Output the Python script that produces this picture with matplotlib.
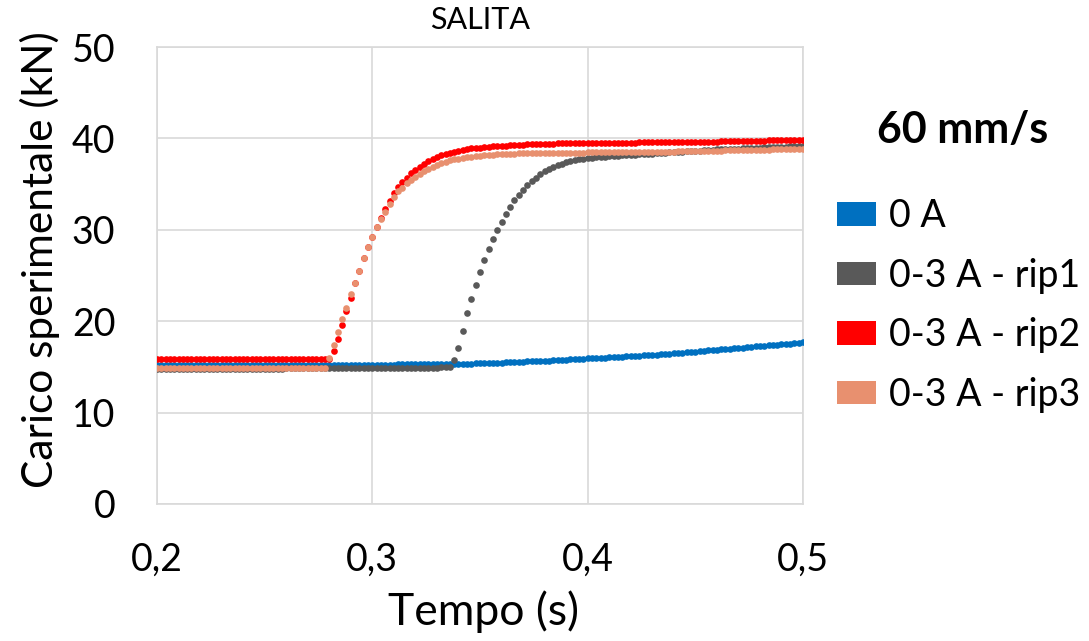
import numpy as np
import matplotlib
matplotlib.use("Agg")
import matplotlib.pyplot as plt
from matplotlib.patches import Patch

plt.rcParams['font.family'] = ['Lato', 'DejaVu Sans']

# sample times (s), acquisition every 0.002 s
tempo = np.round(np.arange(0.200, 0.5001, 0.002), 3)

carico_0A = [
    15.2, 15.2, 15.2, 15.2, 15.2, 15.2, 15.2, 15.2, 15.2, 15.2,
    15.2, 15.2, 15.2, 15.2, 15.2, 15.2, 15.2, 15.2, 15.2, 15.2,
    15.2, 15.2, 15.2, 15.2, 15.2, 15.2, 15.2, 15.2, 15.2, 15.2,
    15.2, 15.2, 15.21, 15.21, 15.21, 15.21, 15.22, 15.22, 15.22, 15.22,
    15.23, 15.23, 15.23, 15.23, 15.23, 15.24, 15.24, 15.24, 15.24, 15.24,
    15.25, 15.25, 15.25, 15.26, 15.26, 15.26, 15.27, 15.27, 15.27, 15.28,
    15.28, 15.29, 15.29, 15.30, 15.30, 15.31, 15.31, 15.32, 15.32, 15.33,
    15.34, 15.35, 15.36, 15.37, 15.38, 15.39, 15.41, 15.42, 15.44, 15.46,
    15.48, 15.50, 15.52, 15.54, 15.56, 15.58, 15.60, 15.62, 15.64, 15.66,
    15.68, 15.70, 15.72, 15.74, 15.77, 15.79, 15.81, 15.84, 15.86, 15.89,
    15.92, 15.94, 15.96, 15.98, 16.01, 16.03, 16.06, 16.08, 16.11, 16.14,
    16.17, 16.20, 16.23, 16.26, 16.29, 16.32, 16.35, 16.38, 16.42, 16.45,
    16.49, 16.53, 16.57, 16.60, 16.64, 16.68, 16.72, 16.76, 16.80, 16.84,
    16.88, 16.92, 16.96, 17.00, 17.04, 17.08, 17.12, 17.16, 17.20, 17.24,
    17.28, 17.32, 17.36, 17.40, 17.44, 17.48, 17.52, 17.56, 17.60, 17.64,
    17.68,
]

carico_rip1 = [
    14.8, 14.8, 14.8, 14.8, 14.8, 14.8, 14.8, 14.8, 14.8, 14.8,
    14.8, 14.8, 14.8, 14.8, 14.8, 14.8, 14.8, 14.8, 14.8, 14.8,
    14.82, 14.82, 14.82, 14.82, 14.82, 14.82, 14.82, 14.82, 14.82, 14.82,
    14.83, 14.83, 14.83, 14.83, 14.83, 14.83, 14.83, 14.83, 14.83, 14.83,
    14.85, 14.85, 14.85, 14.85, 14.85, 14.85, 14.85, 14.85, 14.85, 14.85,
    14.87, 14.87, 14.87, 14.87, 14.87, 14.87, 14.87, 14.87, 14.87, 14.87,
    14.9, 14.9, 14.9, 14.91, 14.92, 14.93, 14.94, 14.95, 14.97, 15.75,
    17.1, 18.9, 20.9, 22.4, 24.0, 25.4, 26.7, 27.9, 29.0, 30.0,
    30.9, 31.7, 32.5, 33.3, 33.8, 34.4, 34.9, 35.3, 35.7, 36.1,
    36.4, 36.65, 36.9, 37.1, 37.25, 37.4, 37.5, 37.6, 37.7, 37.78,
    37.85, 37.9, 37.95, 37.98, 38.01, 38.04, 38.07, 38.1, 38.13, 38.16,
    38.19, 38.22, 38.25, 38.28, 38.31, 38.34, 38.37, 38.40, 38.43, 38.46,
    38.49, 38.52, 38.55, 38.58, 38.61, 38.64, 38.67, 38.70, 38.73, 38.76,
    38.79, 38.81, 38.83, 38.85, 38.87, 38.89, 38.91, 38.93, 38.95, 38.97,
    38.99, 39.01, 39.03, 39.05, 39.07, 39.09, 39.11, 39.13, 39.15, 39.17,
    39.19,
]

carico_rip2 = [
    15.9, 15.9, 15.9, 15.9, 15.9, 15.9, 15.9, 15.9, 15.9, 15.9,
    15.9, 15.9, 15.9, 15.9, 15.9, 15.9, 15.9, 15.9, 15.9, 15.9,
    15.9, 15.9, 15.9, 15.9, 15.9, 15.9, 15.9, 15.9, 15.9, 15.9,
    15.9, 15.9, 15.9, 15.9, 15.9, 15.9, 15.9, 15.9, 15.9, 15.9,
    15.9, 16.7, 18.0, 19.6, 21.1, 22.5, 24.2, 25.5, 26.9, 28.1,
    29.2, 30.3, 31.3, 32.3, 33.2, 34.0, 34.7, 35.2, 35.7, 36.2,
    36.5, 36.9, 37.2, 37.5, 37.75, 37.95, 38.15, 38.3, 38.45, 38.55,
    38.65, 38.75, 38.85, 38.9, 38.95, 39.0, 39.05, 39.1, 39.13, 39.16,
    39.2, 39.22, 39.25, 39.27, 39.3, 39.32, 39.34, 39.36, 39.38, 39.4,
    39.42, 39.43, 39.44, 39.45, 39.46, 39.47, 39.48, 39.48, 39.49, 39.49,
    39.5, 39.5, 39.51, 39.51, 39.52, 39.52, 39.53, 39.53, 39.54, 39.54,
    39.55, 39.55, 39.56, 39.56, 39.57, 39.57, 39.58, 39.58, 39.59, 39.59,
    39.6, 39.6, 39.61, 39.61, 39.62, 39.62, 39.63, 39.63, 39.64, 39.65,
    39.66, 39.67, 39.68, 39.69, 39.7, 39.71, 39.72, 39.73, 39.74, 39.75,
    39.76, 39.77, 39.78, 39.79, 39.8, 39.81, 39.82, 39.83, 39.84, 39.85,
    39.87,
]

carico_rip3 = [
    14.9, 14.9, 14.9, 14.9, 14.9, 14.9, 14.9, 14.9, 14.9, 14.9,
    14.9, 14.9, 14.9, 14.9, 14.9, 14.9, 14.9, 14.9, 14.9, 14.9,
    14.9, 14.9, 14.9, 14.9, 14.9, 14.9, 14.9, 14.9, 14.9, 14.9,
    14.9, 14.9, 14.9, 14.9, 14.9, 14.9, 14.9, 14.9, 14.9, 14.9,
    16.0, 17.4, 18.8, 20.2, 21.4, 23.0, 24.2, 25.5, 26.9, 28.1,
    29.2, 30.3, 31.2, 32.0, 32.8, 33.6, 34.2, 34.6, 35.1, 35.5,
    35.8, 36.1, 36.4, 36.65, 36.9, 37.1, 37.3, 37.45, 37.6, 37.7,
    37.8, 37.9, 37.95, 38.0, 38.05, 38.1, 38.15, 38.2, 38.22, 38.25,
    38.27, 38.3, 38.32, 38.34, 38.36, 38.38, 38.39, 38.4, 38.41, 38.42,
    38.42, 38.43, 38.43, 38.44, 38.44, 38.44, 38.45, 38.45, 38.45, 38.45,
    38.46, 38.46, 38.47, 38.47, 38.48, 38.48, 38.49, 38.49, 38.5, 38.5,
    38.51, 38.51, 38.52, 38.52, 38.53, 38.53, 38.54, 38.54, 38.55, 38.55,
    38.56, 38.57, 38.58, 38.59, 38.6, 38.61, 38.62, 38.63, 38.64, 38.65,
    38.66, 38.67, 38.68, 38.69, 38.7, 38.71, 38.72, 38.73, 38.74, 38.75,
    38.76, 38.77, 38.78, 38.79, 38.8, 38.81, 38.82, 38.83, 38.84, 38.85,
    38.86,
]

series_labels = ["0 A", "0-3 A - rip1", "0-3 A - rip2", "0-3 A - rip3"]
series_colors = ["#0070C0", "#595959", "#FF0000", "#E8906F"]
x_ticks = [0.2, 0.3, 0.4, 0.5]
x_tick_labels = ["0,2", "0,3", "0,4", "0,5"]
y_ticks = [0, 10, 20, 30, 40, 50]

W, H = 1089, 641
fig = plt.figure(figsize=(W / 100, H / 100), dpi=100)
ax = fig.add_axes([157 / W, 1 - 504 / H, 646 / W, 457 / H])

for y, c in zip([carico_0A, carico_rip1, carico_rip2, carico_rip3], series_colors):
    ax.plot(tempo, y, linestyle='none', marker='o', ms=4.8, mfc=c, mec=c, mew=0, zorder=3)

ax.set_xlim(0.2, 0.5)
ax.set_ylim(0, 50)
ax.set_xticks(x_ticks)
ax.set_xticklabels(x_tick_labels)
ax.set_yticks(y_ticks)
ax.grid(True, color='#D9D9D9', linewidth=1.2, zorder=0)
ax.set_axisbelow(True)
for s in ax.spines.values():
    s.set_color('#D9D9D9')
    s.set_linewidth(1.2)
ax.tick_params(length=0, labelsize=27)
ax.tick_params(axis='x', pad=27)
ax.tick_params(axis='y', pad=30)

ax.set_xlabel("Tempo (s)", fontsize=32, va='center')
ax.xaxis.set_label_coords(483 / W, 1 - 612 / H, transform=fig.transFigure)
ax.set_ylabel("Carico sperimentale (kN)", fontsize=30.5, va='center')
ax.yaxis.set_label_coords(40 / W, 1 - 260 / H, transform=fig.transFigure)
ax.set_title("SALITA", fontsize=22, pad=13)

fig.text(963 / W, 1 - 130 / H, "60 mm/s", fontsize=31, fontweight='bold',
         ha='center', va='center')

handles = [Patch(facecolor=c, edgecolor='none', label=l)
           for c, l in zip(series_colors, series_labels)]
fig.legend(handles=handles, loc='upper left', bbox_to_anchor=(837 / W, 1 - 198 / H),
           frameon=False, fontsize=27, handlelength=1.04, handleheight=0.59,
           handletextpad=0.35, labelspacing=0.63, borderaxespad=0, borderpad=0)

fig.savefig("out.png", dpi=100)
